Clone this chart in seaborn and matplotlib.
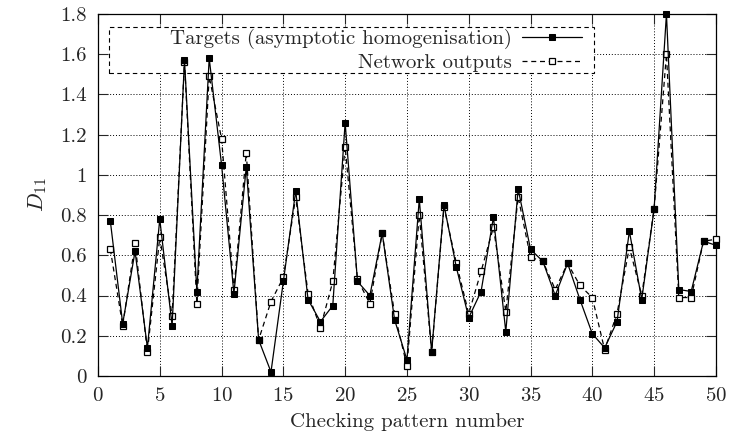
import numpy as np
import pandas as pd
import matplotlib
matplotlib.use('Agg')
import matplotlib.pyplot as plt
from matplotlib.patches import Rectangle
from matplotlib.ticker import FuncFormatter, MultipleLocator
import seaborn as sns

# data
pattern = list(range(1, 51))
targets = [0.77, 0.26, 0.62, 0.14, 0.78, 0.25, 1.57, 0.42, 1.58, 1.05,
           0.41, 1.04, 0.18, 0.02, 0.47, 0.92, 0.38, 0.27, 0.35, 1.26,
           0.47, 0.40, 0.71, 0.28, 0.08, 0.88, 0.12, 0.85, 0.54, 0.29,
           0.42, 0.79, 0.22, 0.93, 0.63, 0.57, 0.40, 0.56, 0.38, 0.21,
           0.14, 0.27, 0.72, 0.38, 0.83, 1.80, 0.43, 0.42, 0.67, 0.65]
outputs = [0.63, 0.25, 0.66, 0.12, 0.69, 0.30, 1.56, 0.36, 1.49, 1.18,
           0.43, 1.11, 0.18, 0.37, 0.49, 0.89, 0.41, 0.24, 0.47, 1.14,
           0.48, 0.36, 0.71, 0.31, 0.05, 0.80, 0.12, 0.84, 0.56, 0.31,
           0.52, 0.74, 0.32, 0.89, 0.59, 0.57, 0.43, 0.56, 0.45, 0.39,
           0.13, 0.31, 0.64, 0.40, 0.83, 1.60, 0.39, 0.39, 0.67, 0.68]

df = pd.DataFrame({'pattern': pattern, 'targets': targets, 'outputs': outputs})

sns.set_style('ticks')
plt.rcParams['font.family'] = ['cmr10', 'DejaVu Serif']
plt.rcParams['mathtext.fontset'] = 'cm'
plt.rcParams['axes.formatter.use_mathtext'] = True

fig = plt.figure(figsize=(7.29, 4.44), dpi=100)
ax = fig.add_axes([0.1344, 0.1532, 0.8476, 0.8153])

sns.lineplot(data=df, x='pattern', y='targets', ax=ax, color='black', lw=0.9,
             marker='s', markersize=4.6, mfc='black', mec='black',
             label='Targets (asymptotic homogenisation)', zorder=4, clip_on=False)
sns.lineplot(data=df, x='pattern', y='outputs', ax=ax, color='black', lw=0.9,
             ls=(0, (4, 3)), marker='s', markersize=5, mfc='white', mec='black',
             mew=0.9, label='Network outputs', zorder=3, clip_on=False)

ax.set_xlim(0, 50)
ax.set_ylim(0, 1.8)
ax.xaxis.set_major_locator(MultipleLocator(5))
ax.yaxis.set_major_locator(MultipleLocator(0.2))
ax.yaxis.set_major_formatter(FuncFormatter(lambda v, p: '%g' % round(v, 1)))
ax.grid(True, color='black', ls=(0, (1, 2)), lw=0.7)
ax.tick_params(direction='in', length=7, width=0.8, top=True, right=True,
               labelsize=15, pad=8)
for s in ax.spines.values():
    s.set_linewidth(0.9)
    s.set_color('black')

ax.set_xlabel('Checking pattern number', fontsize=15, labelpad=6)
ax.set_ylabel('$D_{11}$', fontsize=16, labelpad=8)

# gnuplot style key box, drawn under the curves
ax.add_patch(Rectangle((0.018, 0.837), 0.785, 0.127, transform=ax.transAxes,
                       facecolor='white', edgecolor='black', ls=(0, (4, 3)),
                       lw=0.8, zorder=2))
leg = ax.legend(loc='upper right', bbox_to_anchor=(0.783, 0.958), frameon=False,
                markerfirst=False, fontsize=15, handlelength=2.85,
                handletextpad=0.5, labelspacing=0.2, borderpad=0,
                borderaxespad=0)
leg.set_zorder(6)

fig.savefig('out.png', dpi=100)
